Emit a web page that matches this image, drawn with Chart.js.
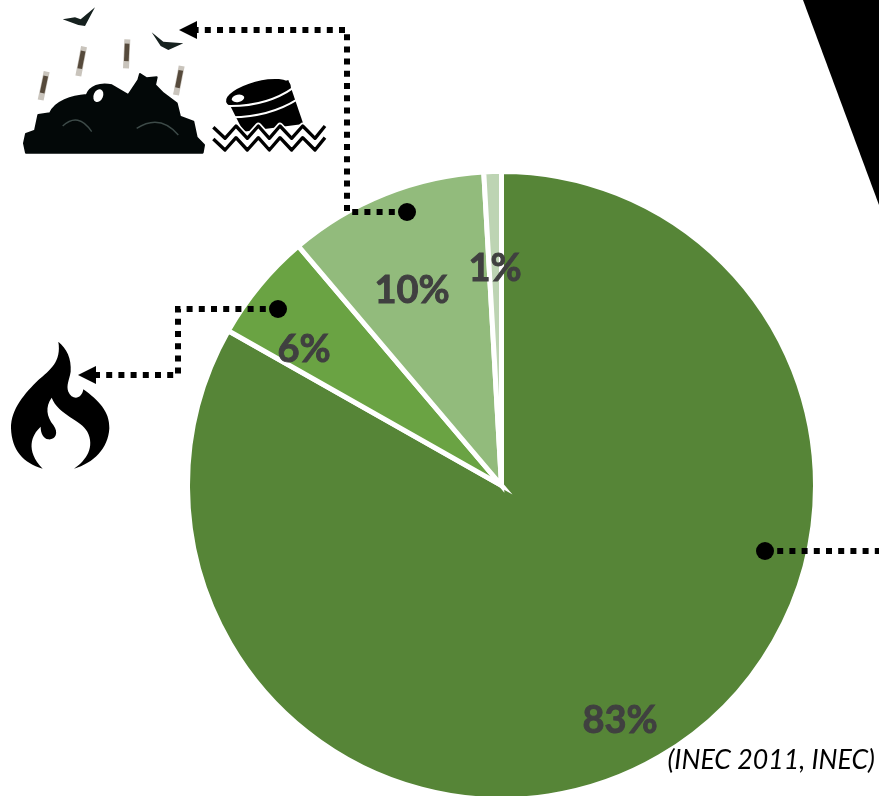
<!DOCTYPE html>
<html>
<head>
<meta charset="utf-8">
<title>Pie chart</title>
<script src="https://cdn.jsdelivr.net/npm/chart.js@4"></script>
<style>
  html, body { margin: 0; padding: 0; background: #ffffff; }
  canvas { display: block; }
</style>
</head>
<body>
<canvas id="chart" width="879" height="796"></canvas>
<script>
const categories = ["Collected", "Burned", "Dumped", "Other"]
const shares = [83.2, 5.6, 10.3, 0.9]
const sliceColors = ["#568537", "#6aa343", "#92bb7c", "#bdd4b3"]
const sourceNote = "(INEC 2011, INEC)"

// label centres, same order as the categories
const labelSpots = [[620, 721], [304, 350], [412, 291], [495, 269]]

// connector routes, first point is the dot on the slice
const connectors = [
  { points: [[407, 212], [347, 212], [347, 30], [196, 30]], arrow: [179, 30, 1] },
  { points: [[278, 309], [178, 309], [178, 375], [96, 375]], arrow: [78, 375, 1] },
  { points: [[765, 551], [879, 551]] }
]

const flamePath = "M175 335 C200 355 215 385 212 425 C208 450 198 465 205 485 C215 510 245 510 250 478 C295 510 330 545 328 595 C325 655 280 700 222 716 C260 690 285 650 262 605 C245 570 175 555 155 503 C135 530 140 560 160 585 C178 610 165 630 145 628 C130 626 122 610 122 590 C95 615 75 660 128 716 C70 700 35 660 33 595 C33 535 75 490 115 450 C150 420 185 395 175 335 Z"
const pilePath = "M78 458 L72 430 L78 402 L105 392 L115 345 L150 340 C165 305 215 288 260 285 C270 260 300 248 335 256 L385 285 L415 240 L420 222 L440 235 L470 232 L465 255 L490 280 L530 310 L540 350 L580 365 L590 412 L612 435 L608 458 Z"
const birdPaths = [
  "M188 58 L225 52 L242 58 L285 22 L255 78 L235 75 Z",
  "M455 97 L490 125 L550 130 L505 150 L482 138 Z"
]

function drawConnector(ctx, c) {
  ctx.save()
  ctx.strokeStyle = "#000000"
  ctx.lineWidth = 6
  ctx.setLineDash([6, 6.2])
  ctx.beginPath()
  c.points.forEach((p, i) => i ? ctx.lineTo(p[0], p[1]) : ctx.moveTo(p[0], p[1]))
  ctx.stroke()
  ctx.restore()

  ctx.fillStyle = "#000000"
  ctx.beginPath()
  ctx.arc(c.points[0][0], c.points[0][1], 9, 0, Math.PI * 2)
  ctx.fill()

  if (c.arrow) {
    const [x, y] = c.arrow
    ctx.beginPath()
    ctx.moveTo(x, y)
    ctx.lineTo(x + 18, y - 9)
    ctx.lineTo(x + 18, y + 9)
    ctx.closePath()
    ctx.fill()
  }
}

// icons are traced at 3x, so scale them down
function drawIcons(ctx) {
  ctx.save()
  ctx.scale(1 / 3, 1 / 3)
  ctx.lineJoin = "round"

  const pile = new Path2D(pilePath)
  ctx.fillStyle = "#030808"
  ctx.strokeStyle = "#030808"
  ctx.lineWidth = 6
  ctx.fill(pile)
  ctx.stroke(pile)

  ctx.fillStyle = "#ffffff"
  ctx.beginPath()
  ctx.ellipse(295, 287, 14, 20, 0.4, 0, Math.PI * 2)
  ctx.fill()

  ctx.strokeStyle = "#3d4a48"
  ctx.lineWidth = 4
  ctx.beginPath()
  ctx.moveTo(188, 378)
  ctx.quadraticCurveTo(235, 335, 275, 395)
  ctx.moveTo(410, 385)
  ctx.quadraticCurveTo(480, 340, 535, 405)
  ctx.stroke()

  // falling bits, faded ends first
  ;[[140, 215, 122, 300], [252, 140, 235, 228], [382, 118, 378, 205], [545, 198, 528, 285]].forEach(s => {
    ctx.strokeStyle = "#c9c4bc"
    ctx.lineWidth = 18
    ctx.beginPath()
    ctx.moveTo(s[0], s[1])
    ctx.lineTo(s[2], s[3])
    ctx.stroke()
    ctx.strokeStyle = "#564a3c"
    ctx.lineWidth = 14
    ctx.beginPath()
    ctx.moveTo(s[0] - (s[0] - s[2]) * 0.15, s[1] + (s[3] - s[1]) * 0.15)
    ctx.lineTo(s[2] + (s[0] - s[2]) * 0.25, s[3] - (s[3] - s[1]) * 0.25)
    ctx.stroke()
  })

  ctx.fillStyle = "#16211f"
  birdPaths.forEach(d => ctx.fill(new Path2D(d)))

  // barrel
  ctx.fillStyle = "#000000"
  ctx.beginPath()
  ctx.moveTo(682, 300)
  ctx.lineTo(865, 240)
  ctx.lineTo(910, 372)
  ctx.lineTo(730, 395)
  ctx.closePath()
  ctx.fill()
  ctx.beginPath()
  ctx.ellipse(775, 280, 100, 36, -0.26, 0, Math.PI * 2)
  ctx.fill()

  ctx.strokeStyle = "#ffffff"
  ctx.lineWidth = 6
  ctx.beginPath()
  ctx.moveTo(685, 318)
  ctx.quadraticCurveTo(800, 320, 882, 262)
  ctx.moveTo(695, 352)
  ctx.quadraticCurveTo(810, 350, 892, 298)
  ctx.stroke()

  ctx.fillStyle = "#ffffff"
  ctx.beginPath()
  ctx.ellipse(714, 295, 19, 11, -0.2, 0, Math.PI * 2)
  ctx.fill()

  // waves over the barrel
  ;[0, 35].forEach(dy => {
    const wave = new Path2D()
    wave.moveTo(640, 382 + dy)
    ;[675, 708, 742, 775, 808, 840, 875, 908, 945, 975].forEach((x, i) => {
      wave.lineTo(x, (i % 2 ? 378 : 415) + dy)
    })
    ctx.strokeStyle = "#ffffff"
    ctx.lineWidth = 20
    ctx.stroke(wave)
    ctx.strokeStyle = "#000000"
    ctx.lineWidth = 10
    ctx.stroke(wave)
  })

  ctx.restore()

  // flame
  ctx.save()
  ctx.scale(1 / 3, 1 / 3)
  ctx.translate(0, 690)
  ctx.fillStyle = "#000000"
  ctx.fill(new Path2D(flamePath))
  ctx.restore()

  // dark shape in the top right corner
  ctx.fillStyle = "#000000"
  ctx.beginPath()
  ctx.moveTo(803, 0)
  ctx.lineTo(879, 205)
  ctx.lineTo(879, 0)
  ctx.closePath()
  ctx.fill()
}

const overlayPlugin = {
  id: "overlay",
  afterDatasetsDraw(chart) {
    const ctx = chart.ctx

    ctx.save()
    ctx.font = "bold 38px Lato"
    ctx.fillStyle = "#404040"
    ctx.strokeStyle = "#404040"
    ctx.lineWidth = 0.9
    ctx.textAlign = "center"
    ctx.textBaseline = "middle"
    shares.forEach((v, i) => {
      ctx.fillText(Math.round(v) + "%", labelSpots[i][0], labelSpots[i][1])
      ctx.strokeText(Math.round(v) + "%", labelSpots[i][0], labelSpots[i][1])
    })
    ctx.restore()

    connectors.forEach(c => drawConnector(ctx, c))
    drawIcons(ctx)

    ctx.save()
    ctx.font = "italic 26.7px Lato"
    ctx.fillStyle = "#000000"
    ctx.textAlign = "right"
    ctx.textBaseline = "alphabetic"
    ctx.fillText(sourceNote, 875, 769)
    ctx.restore()
  }
}

new Chart(document.getElementById("chart").getContext("2d"), {
  type: "pie",
  data: {
    labels: categories,
    datasets: [{
      data: shares,
      backgroundColor: sliceColors,
      borderColor: "#ffffff",
      borderWidth: 5,
      borderJoinStyle: "miter",
      radius: 314
    }]
  },
  options: {
    responsive: false,
    animation: false,
    layout: { padding: { left: 190, right: 66, top: 175, bottom: 0 } },
    plugins: {
      legend: { display: false },
      tooltip: { enabled: false }
    }
  },
  plugins: [overlayPlugin]
})
</script>
</body>
</html>
